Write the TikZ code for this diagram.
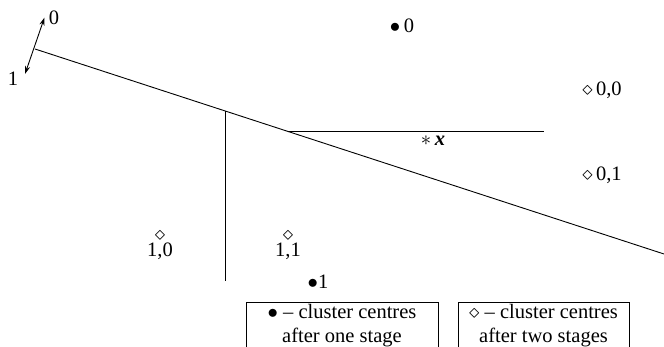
\documentclass[tikz,border=0pt]{standalone}
\usepackage{fontspec}
\setmainfont{Liberation Serif}
\usetikzlibrary{arrows.meta}
\begin{document}
\begin{tikzpicture}[x=1pt,y=-1pt,
  lbl/.style={inner sep=0pt, font=\fontsize{20.5}{24}\selectfont},
  ln/.style={line width=0.9pt},
  legend/.style={draw, line width=0.9pt, minimum height=60pt, anchor=north west, inner sep=0pt}]
\clip (0,0) rectangle (664,347);
% main separating line
\coordinate (L0) at (35,49);
\coordinate (L1) at (664,254);
\draw[ln] (L0) -- (L1);
% vertical and horizontal splits
\coordinate (V0) at (225,111);
\coordinate (V1) at (225,281);
\draw[ln] (V0) -- (V1);
\coordinate (H0) at (289,131.5);
\coordinate (H1) at (544,131.5);
\draw[ln] (H0) -- (H1);
% orientation arrow
\coordinate (A0) at (44.5,17.5);
\coordinate (A1) at (25,74);
\draw[ln, {Stealth[length=8pt,width=5pt]}-{Stealth[length=8pt,width=5pt]}] (A1) -- (A0);
\node[lbl] (n0) at (54,18) {0};
\node[lbl] (n1) at (13,79) {1};
% one-stage centres
\node[lbl] (c0) at (402,26) {$\bullet$\,0};
\node[lbl] (c1) at (318,282) {$\bullet$1};
% two-stage centres
\node[lbl] (d00) at (602,90) {$\diamond$\,0,0};
\node[lbl] (d01) at (602,175) {$\diamond$\,0,1};
\node[lbl] (d10) at (160,235.5) {$\diamond$};
\node[lbl] (t10) at (160,251) {1,0};
\node[lbl] (d11) at (288,235.5) {$\diamond$};
\node[lbl] (t11) at (288,251) {1,1};
% point x
\node[lbl] (px) at (433,141) {$*$\,\textbf{\textit{x}}};
% legends
\node[legend, minimum width=192pt] (leg1) at (246,302) {};
\node[legend, minimum width=171pt] (leg2) at (458,302) {};
\node[lbl, align=center] (t1) at (342,326) {$\bullet$ -- cluster centres\\[0pt]after one stage};
\node[lbl, align=center] (t2) at (543.5,326) {$\diamond$ -- cluster centres\\[0pt]after two stages};
\end{tikzpicture}
\end{document}
